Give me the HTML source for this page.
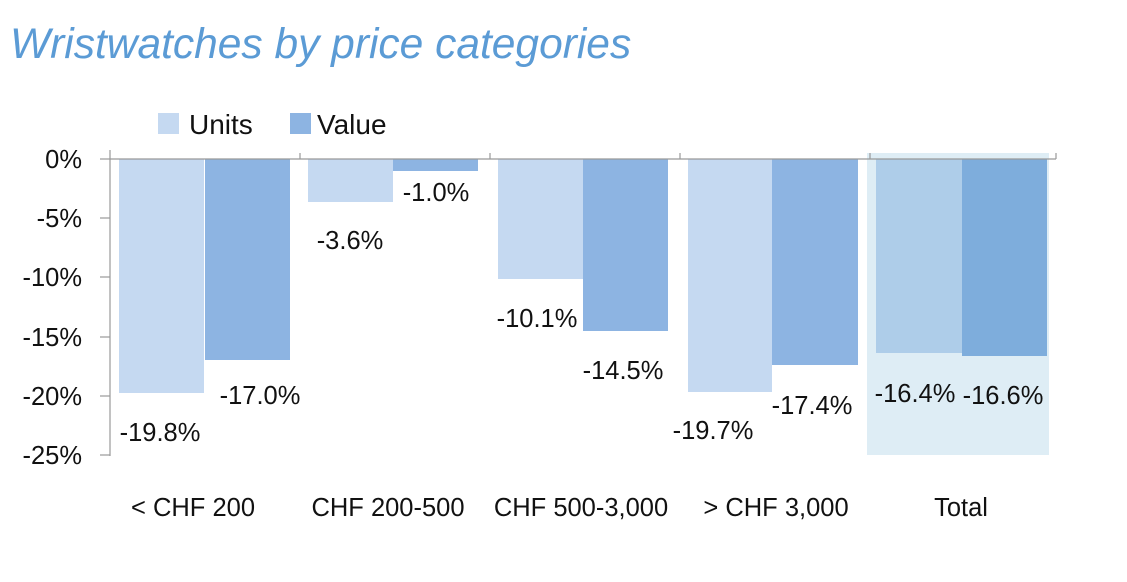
<!DOCTYPE html>
<html><head><meta charset="utf-8"><style>
body{margin:0;background:#fff;}
svg text{font-family:"Liberation Sans",sans-serif;fill:#111;}
</style></head><body>
<svg width="1127" height="577" viewBox="0 0 1127 577">
<text x="10" y="58" style="font-size:42.5px;font-style:italic;fill:#5b9bd5">Wristwatches by price categories</text>
<rect x="158" y="113" width="21" height="21" fill="#c5d9f1"/>
<text x="189" y="134" style="font-size:28px">Units</text>
<rect x="290" y="113" width="21" height="21" fill="#8db4e2"/>
<text x="317" y="134" style="font-size:28px">Value</text>
<rect x="867" y="153" width="182" height="302" fill="#deedf5"/>
<g fill="#c5d9f1">
<rect x="119" y="159" width="85" height="234"/>
<rect x="308" y="159" width="85" height="43"/>
<rect x="498" y="159" width="85" height="120"/>
<rect x="688" y="159" width="84" height="233"/>
</g>
<g fill="#8db4e2">
<rect x="205" y="159" width="85" height="201"/>
<rect x="393" y="159" width="85" height="12"/>
<rect x="583" y="159" width="85" height="172"/>
<rect x="772" y="159" width="86" height="206"/>
</g>
<rect x="876" y="159" width="86" height="194" fill="#aecde9"/>
<rect x="962" y="159" width="85" height="197" fill="#7eaddc"/>
<g stroke="#999" stroke-width="1.2">
<line x1="110" y1="150" x2="110" y2="456"/>
<line x1="110" y1="159" x2="1056" y2="159"/>
<line x1="100" y1="159" x2="110" y2="159"/><line x1="100" y1="218" x2="110" y2="218"/>
<line x1="100" y1="277" x2="110" y2="277"/><line x1="100" y1="337" x2="110" y2="337"/>
<line x1="100" y1="396" x2="110" y2="396"/><line x1="100" y1="455" x2="110" y2="455"/>
<line x1="300" y1="153" x2="300" y2="159"/><line x1="490" y1="153" x2="490" y2="159"/>
<line x1="680" y1="153" x2="680" y2="159"/><line x1="870" y1="153" x2="870" y2="159"/>
<line x1="1056" y1="153" x2="1056" y2="159"/>
</g>
<g style="font-size:25.5px" text-anchor="end">
<text x="82" y="168">0%</text><text x="82" y="227">-5%</text><text x="82" y="286">-10%</text>
<text x="82" y="346">-15%</text><text x="82" y="405">-20%</text><text x="82" y="464">-25%</text>
</g>
<g style="font-size:25.5px" text-anchor="middle">
<text x="160" y="441">-19.8%</text><text x="260" y="404">-17.0%</text>
<text x="350" y="249">-3.6%</text><text x="436" y="201">-1.0%</text>
<text x="537" y="327">-10.1%</text><text x="623" y="379">-14.5%</text>
<text x="713" y="439">-19.7%</text><text x="812" y="414">-17.4%</text>
<text x="915" y="402">-16.4%</text><text x="1003" y="404">-16.6%</text>
<text x="193" y="516">&lt; CHF 200</text><text x="388" y="516">CHF 200-500</text>
<text x="581" y="516">CHF 500-3,000</text><text x="776" y="516">&gt; CHF 3,000</text>
<text x="961" y="516">Total</text>
</g>
</svg>
</body></html>
